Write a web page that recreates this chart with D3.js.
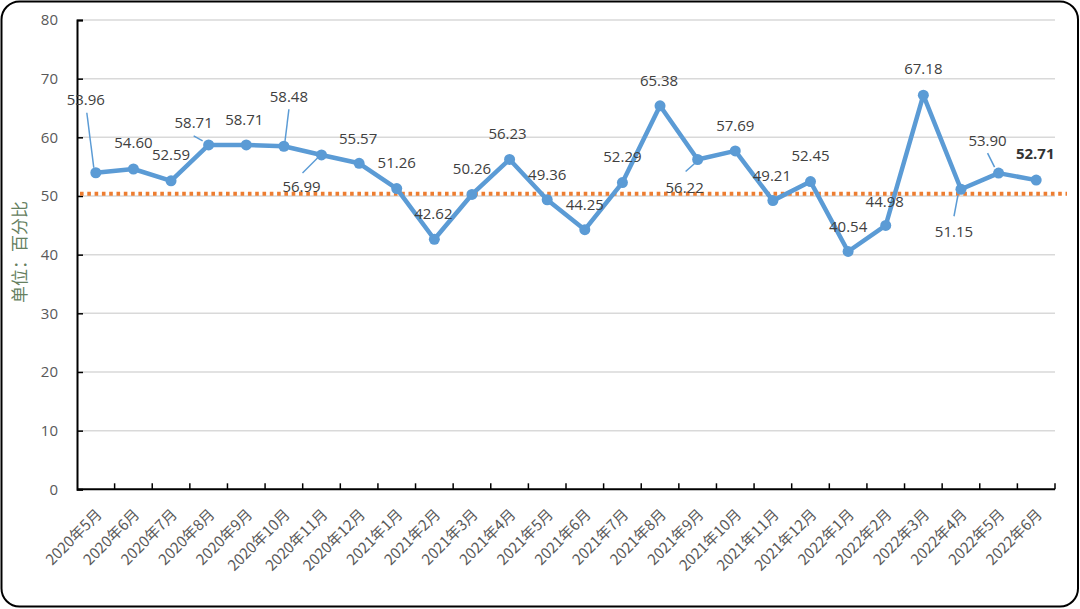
<!DOCTYPE html>
<html><head><meta charset="utf-8">
<script src="https://cdn.jsdelivr.net/npm/d3@7"></script>
<style>body{margin:0;background:#fff}svg{display:block}</style>
</head><body><svg id="c" width="1080" height="609"></svg>
<script>
const categories = ["2020年5月","2020年6月","2020年7月","2020年8月","2020年9月","2020年10月","2020年11月","2020年12月","2021年1月","2021年2月","2021年3月","2021年4月","2021年5月","2021年6月","2021年7月","2021年8月","2021年9月","2021年10月","2021年11月","2021年12月","2022年1月","2022年2月","2022年3月","2022年4月","2022年5月","2022年6月"];
const values = [53.96,54.60,52.59,58.71,58.71,58.48,56.99,55.57,51.26,42.62,50.26,56.23,49.36,44.25,52.29,65.38,56.22,57.69,49.21,52.45,40.54,44.98,67.18,51.15,53.90,52.71];
const yTicks = [0,10,20,30,40,50,60,70,80];
const referenceValue = 50.4;
const yTitle = "单位：百分比";

// label placement (offsets from point, px)
const labelOffsets = [[-10,-73],[0,-26],[0,-26],[-15,-22],[-2,-25],[5,-49],[-20,32],[-1,-25],[0,-26],[-1,-26],[0,-26],[-2,-26],[0,-25],[0,-25],[0,-26],[-1,-25],[-13,28],[0,-25],[-1,-25],[0,-26],[0,-25],[-1,-24],[0,-26],[-7,43],[-11,-32],[-1,-26]];
const leaders = {0:[-9,-60,-2,-5],3:[-15,-9,-6,-4],5:[5,-37,1,-4],6:[-19,18,-4,3],16:[-12,12,-3,4],23:[-7,27,-3,6],24:[-11,-20,-4,-6]};

const svg = d3.select("#c");
const L = 77, R = 1055, T = 20, B = 489.3;
const x = d3.scaleBand().domain(categories).range([L, R]).padding(0);
const y = d3.scaleLinear().domain([0, 80]).range([B, T]);

svg.append("rect").attr("x",1.5).attr("y",1.5).attr("width",1076.5).attr("height",605).attr("rx",18)
  .attr("fill","#fff").attr("stroke","#000").attr("stroke-width",2);

// gridlines
svg.append("g").selectAll("line").data(yTicks.filter(d=>d>0)).join("line")
  .attr("x1",L).attr("x2",R).attr("y1",d=>y(d)).attr("y2",d=>y(d))
  .attr("stroke","#d9d9d9").attr("stroke-width",1.5);

// y axis
const yAxis = svg.append("g").attr("transform",`translate(${L},0)`)
  .call(d3.axisLeft(y).tickValues(yTicks).tickSize(-6).tickPadding(19));
yAxis.select(".domain").attr("stroke","#000").attr("stroke-width",2);
yAxis.selectAll(".tick line").attr("stroke","#000").attr("stroke-width",1.5);
yAxis.selectAll(".tick text").attr("fill","#595959").attr("font-size",15).attr("font-family","'Open Sans', sans-serif");

// x axis
const bounds = categories.map(c=>x(c)).concat([R]);
const xg = svg.append("g");
xg.append("line").attr("x1",L).attr("x2",R).attr("y1",B).attr("y2",B).attr("stroke","#000").attr("stroke-width",2);
xg.selectAll("line.t").data(bounds.slice(1)).join("line").attr("class","t")
  .attr("x1",d=>d).attr("x2",d=>d).attr("y1",B).attr("y2",B-6).attr("stroke","#000").attr("stroke-width",1.5);
xg.selectAll("text").data(categories).join("text")
  .attr("transform",d=>`translate(${x(d)+x.bandwidth()/2+7},${B+26}) rotate(-45)`)
  .attr("text-anchor","end")
  .attr("fill","#595959").attr("font-size",15).attr("font-family","'Noto Sans CJK SC', sans-serif")
  .text(d=>d);

// y title
svg.append("text").attr("transform","translate(20,252) rotate(-90)")
  .attr("text-anchor","middle").attr("dy","0.35em")
  .attr("fill","#66805f").attr("font-size",17).attr("font-family","'Noto Sans CJK SC', sans-serif")
  .text(yTitle);

// reference line
svg.append("line").attr("x1",80).attr("x2",1067).attr("y1",y(referenceValue)).attr("y2",y(referenceValue))
  .attr("stroke","#ED7D31").attr("stroke-width",4).attr("stroke-dasharray","3.6,3.7");

// series line
const cx = (d,i)=>x(categories[i])+x.bandwidth()/2;
const line = d3.line().x((d,i)=>cx(d,i)).y(d=>y(d));
svg.append("path").datum(values).attr("d",line).attr("fill","none")
  .attr("stroke","#5B9BD5").attr("stroke-width",4.5).attr("stroke-linejoin","round");
svg.append("g").selectAll("circle").data(values).join("circle")
  .attr("cx",cx).attr("cy",d=>y(d)).attr("r",5.5).attr("fill","#5B9BD5");

// leaders
Object.entries(leaders).forEach(([k,o])=>{
  const i=+k, px=cx(values[i],i), py=y(values[i]);
  svg.append("line").attr("x1",px+o[0]).attr("y1",py+o[1]).attr("x2",px+o[2]).attr("y2",py+o[3])
    .attr("stroke","#5B9BD5").attr("stroke-width",1.5);
});

// labels
svg.append("g").selectAll("text").data(values).join("text")
  .attr("x",(d,i)=>cx(d,i)+labelOffsets[i][0]).attr("y",(d,i)=>y(d)+labelOffsets[i][1])
  .attr("text-anchor","middle").attr("dy","0.35em")
  .attr("font-size",15).attr("font-family","'Open Sans', sans-serif")
  .attr("font-weight",(d,i)=>i===values.length-1?"bold":"normal")
  .attr("fill",(d,i)=>i===values.length-1?"#333":"#404040")
  .text(d=>d.toFixed(2));
</script></body></html>
